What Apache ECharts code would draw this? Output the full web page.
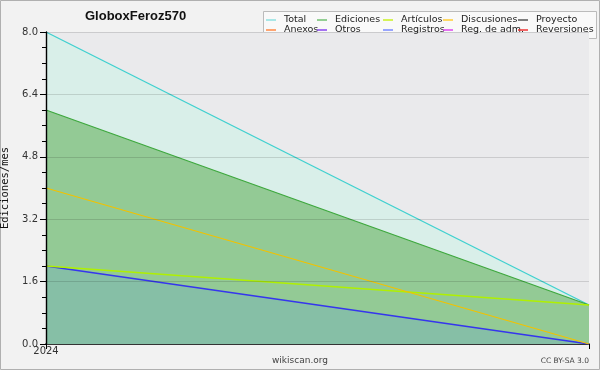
<!DOCTYPE html>
<html><head><meta charset="utf-8">
<script src="https://cdn.jsdelivr.net/npm/echarts@6/dist/echarts.min.js"></script>
<style>html,body{margin:0;padding:0;background:#f2f2f2}#c{width:600px;height:370px}</style>
</head><body><div id="c"></div>
<script>
const categories = ['2024', ''];
const total = [8, 1];
const ediciones = [6, 1];
const articulos = [2, 1];
const discusiones = [4, 0];
const registros = [2, 0];
const empty = [];
const yTicks = [0, 1.6, 3.2, 4.8, 6.4, 8.0];

const legendNames = ['Total','Ediciones','Artículos','Discusiones','Proyecto','Anexos','Otros','Registros','Reg. de adm.','Reversiones'];
const legendColors = ['#8ee0e0','#70c070','#c8f020','#ffcc33','#555555','#ff8844','#8844ee','#7788ff','#dd44ee','#ee3333'];

const chart = echarts.init(document.getElementById('c'), null, {renderer:'canvas'});

function lineSeries(name, data, color, area, z, width) {
  const s = {
    name, type:'line', data, symbol:'none', z,
    lineStyle:{color, width: width || 1.3},
    itemStyle:{color},
    emphasis:{disabled:true}, silent:true, animation:false
  };
  if (area) s.areaStyle = {color: area, opacity: 1};
  return s;
}

const series = [
  lineSeries('Total', total, '#3fd0cf', '#d9efe9', 2),
  lineSeries('Ediciones', ediciones, '#3ea83e', '#93ca95', 3),
  lineSeries('Artículos', articulos, '#b0f000', null, 5),
  lineSeries('Discusiones', discusiones, '#f2c200', null, 5),
  lineSeries('Proyecto', empty, '#555555', null, 5),
  lineSeries('Anexos', empty, '#ff8844', null, 5),
  lineSeries('Otros', empty, '#8844ee', null, 5),
  lineSeries('Registros', registros, '#3535ee', '#86bfa6', 4),
  lineSeries('Reg. de adm.', empty, '#dd44ee', null, 5),
  lineSeries('Reversiones', empty, '#ee3333', null, 5)
];

const colLeft = [266, 317, 383, 443, 518];
const legends = colLeft.map((x, i) => ({
  orient:'vertical', left:x, top:15, itemGap:0, padding:0,
  itemWidth:10, itemHeight:1.5, icon:'rect',
  selectedMode:false,
  textStyle:{fontFamily:'DejaVu Sans', fontSize:9.5, color:'#222', lineHeight:10, padding:[0,0,0,3]},
  data:[i, i+5].map(k => ({name:legendNames[k], itemStyle:{color:legendColors[k]}}))
}));

chart.setOption({
  animation:false,
  backgroundColor:'#f2f2f2',
  title:{text:'GloboxFeroz570', left:85, top:10, padding:0,
    textStyle:{fontFamily:'Liberation Sans', fontWeight:'bold', fontSize:13, color:'#111'}},
  legend: legends,
  grid:{left:46, right:11, top:32, bottom:26, show:true, backgroundColor:'#eaeaec', borderWidth:0,
    containLabel:false, outerBoundsMode:'none'},
  xAxis:{type:'category', data:categories, boundaryGap:false,
    axisLine:{lineStyle:{color:'#000', width:1.6}},
    axisTick:{show:true, length:5, lineStyle:{color:'#000'}},
    axisLabel:{margin:2, fontFamily:'DejaVu Sans', fontSize:10, color:'#333'},
    splitLine:{show:false}},
  yAxis:{type:'value', min:0, max:8, interval:1.6, z:6,
    name:'Ediciones/mes', nameLocation:'middle', nameGap:29, nameRotate:90,
    nameTextStyle:{fontFamily:'DejaVu Sans Mono', fontSize:10.5, color:'#111'},
    axisLine:{show:true, lineStyle:{color:'#000', width:1.4}},
    axisTick:{show:true, length:6, lineStyle:{color:'#000'}},
    minorTick:{show:true, splitNumber:4, length:4, lineStyle:{color:'#000'}},
    axisLabel:{margin:8, fontFamily:'DejaVu Sans', fontSize:10, color:'#333',
      formatter: v => { const t = yTicks.find(x => Math.abs(x - v) < 1e-6); return (t === undefined ? v : t).toFixed(1); }},
    splitLine:{show:true, lineStyle:{color:'rgba(0,0,0,0.13)', width:1}}},
  graphic:[
    {type:'rect', z:-1, shape:{x:263.5, y:11.5, width:333, height:27}, style:{fill:'#f9f9f9', stroke:'#bbbbbb', lineWidth:1}, silent:true},
    {type:'rect', z:-2, shape:{x:0.5, y:0.5, width:599, height:369}, style:{fill:'none', stroke:'#b0b0b0', lineWidth:1}, silent:true},
    {type:'text', left:'center', top:356, style:{text:'wikiscan.org', fontFamily:'DejaVu Sans', fontSize:9, fill:'#444'}},
    {type:'text', right:11, top:357, style:{text:'CC BY-SA 3.0', fontFamily:'DejaVu Sans', fontSize:7.5, fill:'#444'}}
  ],
  series
});
</script></body></html>
